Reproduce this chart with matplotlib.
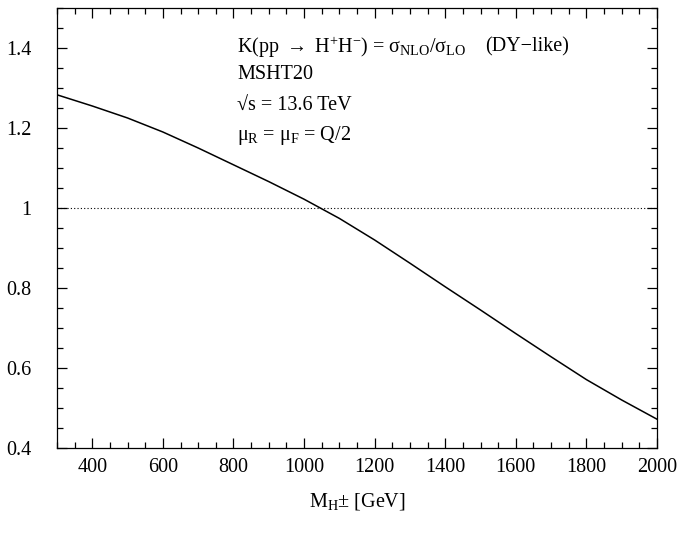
import matplotlib
matplotlib.use("Agg")
import matplotlib.pyplot as plt
from matplotlib.ticker import MultipleLocator

# K-factor
mass = [300, 400, 500, 600, 700, 800, 900, 1000, 1100, 1200,
        1300, 1400, 1500, 1600, 1700, 1800, 1900, 2000]
k_factor = [1.283, 1.255, 1.225, 1.190, 1.150, 1.108, 1.066, 1.022, 0.974, 0.920,
            0.862, 0.803, 0.745, 0.686, 0.628, 0.571, 0.520, 0.472]

plt.rcParams['font.family'] = ['Liberation Serif', 'DejaVu Serif']
plt.rcParams['mathtext.fontset'] = 'custom'
plt.rcParams['mathtext.rm'] = 'Liberation Serif'
plt.rcParams['mathtext.it'] = 'Liberation Serif:italic'
plt.rcParams['font.size'] = 14.5

fig = plt.figure(figsize=(6.85, 5.34), dpi=100)
ax = fig.add_axes([57/685, 86/534, 600/685, 440/534])

ax.plot(mass, k_factor, color='black', lw=1.1)
ax.axhline(1.0, color='black', lw=0.8, ls=(0, (1, 2)))

ax.set_xlim(300, 2000)
ax.set_ylim(0.4, 1.5)
ax.xaxis.set_major_locator(MultipleLocator(200))
ax.xaxis.set_minor_locator(MultipleLocator(50))
ax.yaxis.set_minor_locator(MultipleLocator(0.05))
ax.set_yticks([0.4, 0.6, 0.8, 1.0, 1.2, 1.4])
ax.set_yticklabels(['0.4', '0.6', '0.8', '1', '1.2', '1.4'])
ax.tick_params(which='both', direction='in', top=True, right=True, width=0.9)
ax.tick_params(which='major', length=7)
ax.tick_params(which='minor', length=4)
ax.tick_params(axis='x', which='major', pad=7)
ax.tick_params(axis='y', which='major', pad=18.5)
for s in ax.spines.values():
    s.set_linewidth(0.9)

ax.set_xlabel(r'M$_{\rm H}$$\pm$ [GeV]', labelpad=10)

tx = (237 - 57) / 600
ax.text(tx, 0.911, r'K(pp $\rightarrow$ H$^{+}$H$^{-}$) = σ$_{\rm NLO}$/σ$_{\rm LO}$',
        transform=ax.transAxes, va='center', ha='left')
ax.text((485 - 57) / 600, 0.911, '(DY−like)', transform=ax.transAxes, va='center', ha='left')
ax.text(tx, 0.848, 'MSHT20', transform=ax.transAxes, va='center', ha='left')
ax.text(tx, 0.777, '√s = 13.6 TeV', transform=ax.transAxes, va='center', ha='left')
ax.text(tx, 0.711, r'μ$_{\rm R}$ = μ$_{\rm F}$ = Q/2', transform=ax.transAxes, va='center', ha='left')

fig.savefig('out.png', dpi=100)
